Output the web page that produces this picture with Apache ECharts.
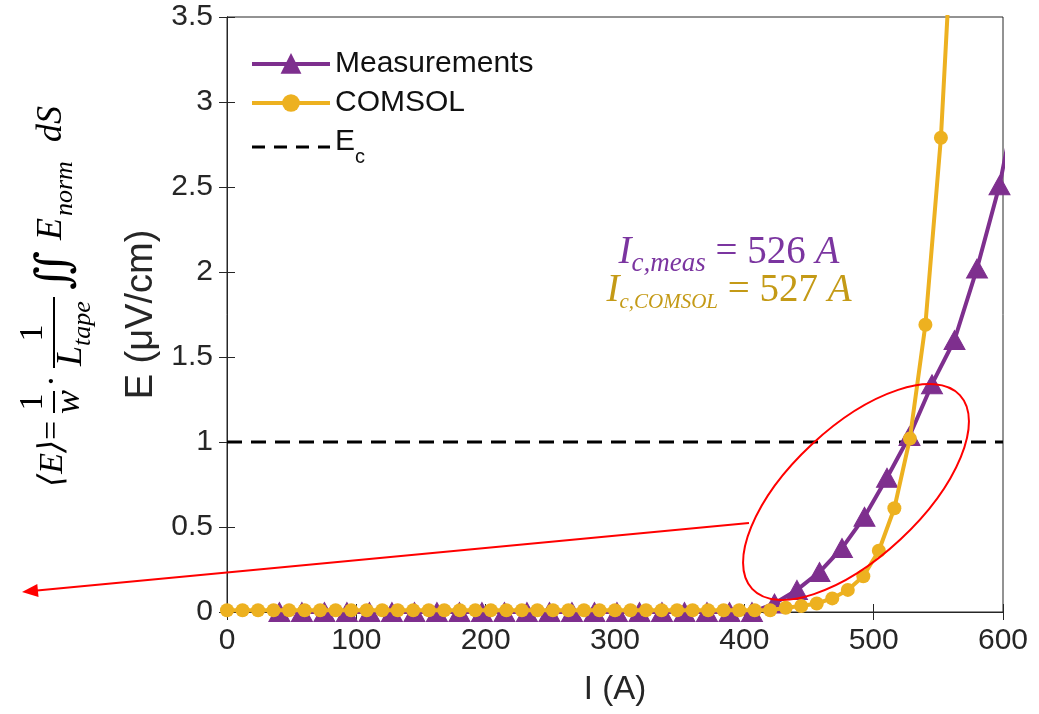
<!DOCTYPE html>
<html><head><meta charset="utf-8">
<script src="https://cdn.jsdelivr.net/npm/echarts@6/dist/echarts.min.js"></script>
<style>html,body{margin:0;padding:0;background:#fff}#c{width:1039px;height:714px}</style>
</head><body><div id="c"></div>
<script>
// ---- data ----
const measI = [40.5, 57.9, 75.3, 92.7, 110.1, 127.5, 144.9, 162.3, 179.7, 197.1, 214.5, 231.9, 249.3, 266.7, 284.1, 301.5, 318.9, 336.3, 353.7, 371.1, 388.5, 405.9, 423.3, 440.7, 458.1, 475.5, 492.9, 510.3, 527.7, 545.1, 562.5, 579.9, 597.3, 614.7];
const measE = [0, 0, 0, 0, 0, 0, 0, 0, 0, 0, 0, 0, 0, 0, 0, 0, 0, 0, 0, 0, 0, 0, 0.05, 0.13, 0.235, 0.376, 0.56, 0.79, 1.035, 1.34, 1.6, 2.02, 2.51, 3.17];
const comsolI = [0, 12, 24, 36, 48, 60, 72, 84, 96, 108, 120, 132, 144, 156, 168, 180, 192, 204, 216, 228, 240, 252, 264, 276, 288, 300, 312, 324, 336, 348, 360, 372, 384, 396, 408, 420, 432, 444, 456, 468, 480, 492, 504, 516, 528, 540, 552, 564];
const comsolE = [0.01, 0.01, 0.01, 0.01, 0.01, 0.01, 0.01, 0.01, 0.01, 0.01, 0.01, 0.01, 0.01, 0.01, 0.01, 0.01, 0.01, 0.01, 0.01, 0.01, 0.01, 0.01, 0.01, 0.01, 0.01, 0.01, 0.01, 0.01, 0.01, 0.01, 0.01, 0.01, 0.01, 0.01, 0.01, 0.01, 0.025, 0.035, 0.05, 0.08, 0.13, 0.21, 0.36, 0.61, 1.02, 1.69, 2.79, 4.5];
const ecI = [0, 600];
const ecE = [1, 1];
const seriesNames = ['Measurements', 'COMSOL', 'Ec'];
const xTicks = [0, 100, 200, 300, 400, 500, 600];
const yTicks = [0, 0.5, 1, 1.5, 2, 2.5, 3, 3.5];
const noteMeas = {sub: 'c,meas', val: '526'};
const noteComsol = {sub: 'c,COMSOL', val: '527'};

// ---- styling ----
const purple = '#7E2F8E', gold = '#EDB120', ink = '#262626';
const sans = 'Liberation Sans, Arial, sans-serif';
const serif = 'Liberation Serif, DejaVu Serif, serif';
const pairs = (xs, ys) => xs.map((x, i) => [x, ys[i]]);

const chart = echarts.init(document.getElementById('c'), null, {renderer: 'canvas'});

const tickStyle = {show: true, inside: true, length: 8, lineStyle: {color: ink, width: 1}};
const option = {
  animation: false,
  backgroundColor: '#fff',
  grid: {left: 227, right: 36, top: 17, bottom: 102, show: true, borderColor: ink, borderWidth: 1, backgroundColor: 'transparent'},
  xAxis: [{
    type: 'value', min: xTicks[0], max: xTicks[xTicks.length - 1], interval: xTicks[1] - xTicks[0],
    axisLine: {lineStyle: {color: ink, width: 1}}, axisTick: tickStyle,
    axisLabel: {fontSize: 30, color: ink, margin: 14, fontFamily: sans},
    splitLine: {show: false},
    name: 'I (A)', nameLocation: 'middle', nameGap: 61,
    nameTextStyle: {fontSize: 33, color: ink, fontFamily: sans}
  }, {
    type: 'value', position: 'top', min: xTicks[0], max: xTicks[xTicks.length - 1], interval: xTicks[1] - xTicks[0],
    axisLine: {show: true, lineStyle: {color: ink, width: 1}}, axisTick: tickStyle, axisLabel: {show: false}, splitLine: {show: false}
  }],
  yAxis: [{
    type: 'value', min: yTicks[0], max: yTicks[yTicks.length - 1], interval: yTicks[1] - yTicks[0],
    axisLine: {show: true, lineStyle: {color: ink, width: 1}}, axisTick: tickStyle,
    axisLabel: {fontSize: 30, color: ink, margin: 14, fontFamily: sans},
    splitLine: {show: false},
    name: 'E (μV/cm)', nameLocation: 'middle', nameGap: 64,
    nameTextStyle: {fontSize: 38, color: ink, fontFamily: sans}
  }, {
    type: 'value', position: 'right', min: yTicks[0], max: yTicks[yTicks.length - 1], interval: yTicks[1] - yTicks[0],
    axisLine: {show: true, lineStyle: {color: ink, width: 1}}, axisTick: tickStyle, axisLabel: {show: false}, splitLine: {show: false}
  }],
  legend: {
    orient: 'vertical', left: 245, top: 44, itemWidth: 78, itemHeight: 22, itemGap: 9,
    data: [
      {name: seriesNames[0], lineStyle: {width: 4}},
      {name: seriesNames[1], lineStyle: {width: 4}},
      {name: seriesNames[2], lineStyle: {width: 3, type: [13, 9]}, itemStyle: {color: 'transparent', borderColor: 'transparent', borderWidth: 0, opacity: 0}}
    ],
    formatter: n => n === 'Ec' ? '{m|E}{s|c}' : n,
    textStyle: {
      fontSize: 30, color: '#111', fontFamily: sans,
      rich: {
        m: {fontSize: 30, fontFamily: sans, color: '#111', verticalAlign: 'top'},
        s: {fontSize: 20, fontFamily: sans, color: '#111', verticalAlign: 'top', padding: [20, 0, 0, 0]}
      }
    }
  },
  series: [{
    name: seriesNames[0], type: 'line', data: pairs(measI, measE),
    symbol: 'triangle', symbolSize: [21, 19], clip: true, z: 3,
    lineStyle: {color: purple, width: 4},
    itemStyle: {color: purple, borderColor: purple, borderWidth: 1}
  }, {
    name: seriesNames[1], type: 'line', data: pairs(comsolI, comsolE),
    symbol: 'circle', symbolSize: 14, clip: true, z: 4,
    lineStyle: {color: gold, width: 4},
    itemStyle: {color: gold}
  }, {
    name: seriesNames[2], type: 'line', data: pairs(ecI, ecE),
    symbol: 'none', clip: true, z: 2,
    lineStyle: {color: '#000', width: 3, type: [15, 9]},
    itemStyle: {color: '#000'}
  }],
  graphic: {elements: [
    // red ellipse
    {type: 'ellipse', x: 856, y: 492, rotation: 43 * Math.PI / 180,
     shape: {cx: 0, cy: 0, rx: 142, ry: 65},
     style: {fill: 'none', stroke: '#FF0000', lineWidth: 2}, z: 100},
    // arrow
    {type: 'line', shape: {x1: 749, y1: 523, x2: 37, y2: 590.5},
     style: {stroke: '#FF0000', lineWidth: 2}, z: 100},
    {type: 'polygon', shape: {points: [[22, 592], [38.5, 597], [37.3, 584]]},
     style: {fill: '#FF0000'}, z: 100},
    // Ic annotations
    {type: 'text', x: 729, y: 255, z: 100,
     style: {text: '{i|I}{s|' + noteMeas.sub + '}{n| = ' + noteMeas.val + ' }{i|A}', align: 'center', verticalAlign: 'middle',
       rich: {
         i: {fontSize: 39, fontStyle: 'italic', fontFamily: serif, fill: '#7B35A0', verticalAlign: 'top'},
         s: {fontSize: 27, fontStyle: 'italic', fontFamily: serif, fill: '#7B35A0', verticalAlign: 'top', padding: [17, 0, 0, 0]},
         n: {fontSize: 39, fontFamily: serif, fill: '#7B35A0', verticalAlign: 'top'}
       }}},
    {type: 'text', x: 729, y: 292, z: 100,
     style: {text: '{i|I}{s|' + noteComsol.sub + '}{n| = ' + noteComsol.val + ' }{i|A}', align: 'center', verticalAlign: 'middle',
       rich: {
         i: {fontSize: 39, fontStyle: 'italic', fontFamily: serif, fill: '#C49A16', verticalAlign: 'top'},
         s: {fontSize: 21, fontStyle: 'italic', fontFamily: serif, fill: '#C49A16', verticalAlign: 'top', padding: [21, 0, 0, 0]},
         n: {fontSize: 39, fontFamily: serif, fill: '#C49A16', verticalAlign: 'top'}
       }}},
    // rotated formula
    {type: 'group', x: 70, y: 487, rotation: Math.PI / 2, z: 100, children: [
      {type: 'text', x: 0, y: 0, style: {text: '⟨E⟩', fontSize: 34, fontStyle: 'italic', fontFamily: serif, fill: '#000', verticalAlign: 'bottom'}},
      {type: 'text', x: 47, y: 0, style: {text: '=', fontSize: 34, fontFamily: serif, fill: '#000', verticalAlign: 'bottom'}},
      {type: 'text', x: 85, y: -20, style: {text: '1', fontSize: 34, fontFamily: serif, fill: '#000', align: 'center', verticalAlign: 'bottom'}},
      {type: 'line', shape: {x1: 74, y1: -16, x2: 96, y2: -16}, style: {stroke: '#000', lineWidth: 2}},
      {type: 'text', x: 85, y: 18, style: {text: 'w', fontSize: 36, fontStyle: 'italic', fontFamily: serif, fill: '#000', align: 'center', verticalAlign: 'bottom'}},
      {type: 'text', x: 106, y: -16, style: {text: '·', fontSize: 36, fontFamily: serif, fill: '#000', align: 'center', verticalAlign: 'middle'}},
      {type: 'text', x: 154, y: -20, style: {text: '1', fontSize: 34, fontFamily: serif, fill: '#000', align: 'center', verticalAlign: 'bottom'}},
      {type: 'line', shape: {x1: 119, y1: -16, x2: 190, y2: -16}, style: {stroke: '#000', lineWidth: 2}},
      {type: 'text', x: 121, y: 20, style: {text: 'L', fontSize: 36, fontStyle: 'italic', fontFamily: serif, fill: '#000', verticalAlign: 'bottom'}},
      {type: 'text', x: 141, y: 26, style: {text: 'tape', fontSize: 26, fontStyle: 'italic', fontFamily: serif, fill: '#000', verticalAlign: 'bottom'}},
      {type: 'text', x: 197, y: -14, style: {text: '∬', fontSize: 46, fontFamily: 'DejaVu Serif, serif', fill: '#000', verticalAlign: 'middle'}},
      {type: 'text', x: 247, y: 0, style: {text: 'E', fontSize: 36, fontStyle: 'italic', fontFamily: serif, fill: '#000', verticalAlign: 'bottom'}},
      {type: 'text', x: 271, y: 8, style: {text: 'norm', fontSize: 26, fontStyle: 'italic', fontFamily: serif, fill: '#000', verticalAlign: 'bottom'}},
      {type: 'text', x: 345, y: 0, style: {text: 'dS', fontSize: 36, fontStyle: 'italic', fontFamily: serif, fill: '#000', verticalAlign: 'bottom'}}
    ]}
  ]}
};
chart.setOption(option);
</script>
</body></html>
